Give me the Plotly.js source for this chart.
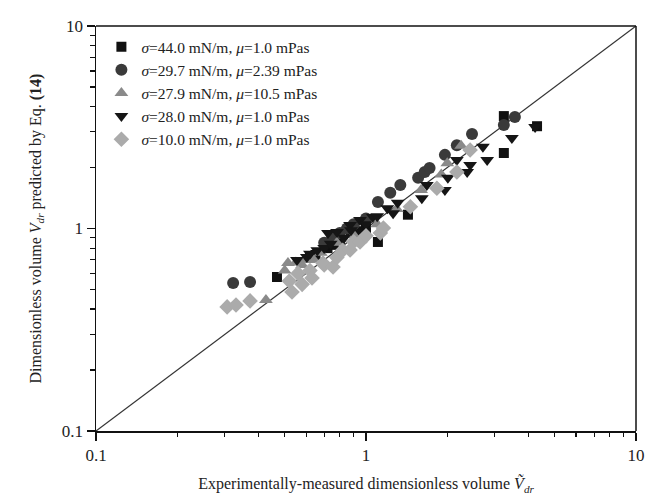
<!DOCTYPE html>
<html>
<head>
<meta charset="utf-8">
<script src="https://cdn.plot.ly/plotly-3.0.1.min.js"></script>
<style>html,body{margin:0;padding:0;background:#fff;}#chart{width:646px;height:500px;}</style>
</head>
<body>
<div id="chart"></div>
<script>
// Series 1: sigma=44.0 mN/m, mu=1.0 mPas (squares)
const sqX = [0.468, 0.62, 0.65, 0.72, 0.76, 0.80, 0.88, 0.92, 1.00, 1.107, 1.43, 3.24, 3.24, 4.30];
const sqY = [0.576, 0.72, 0.74, 0.80, 0.83, 0.88, 0.95, 0.97, 1.00, 0.858, 1.17, 3.59, 2.36, 3.20];
// Series 2: sigma=29.7 mN/m, mu=2.39 mPas (circles)
const ciX = [0.322, 0.372, 0.70, 0.75, 0.80, 0.85, 0.90, 1.00, 1.107, 1.23, 1.34, 1.56, 1.65, 1.72, 1.96, 2.17, 2.47, 3.24, 3.56];
const ciY = [0.538, 0.544, 0.85, 0.90, 0.95, 1.00, 1.05, 1.12, 1.35, 1.50, 1.64, 1.78, 1.90, 1.99, 2.31, 2.58, 2.93, 3.24, 3.55];
// Series 3: sigma=27.9 mN/m, mu=10.5 mPas (up triangles)
const upX = [0.426, 0.50, 0.514, 0.55, 0.58, 0.60, 0.64, 0.68, 0.78, 0.90, 1.10, 1.30, 1.60, 1.90, 2.00, 2.25];
const upY = [0.443, 0.62, 0.676, 0.68, 0.66, 0.70, 0.70, 0.76, 0.85, 0.93, 1.05, 1.25, 1.55, 1.85, 2.10, 2.56];
// Series 4: sigma=28.0 mN/m, mu=1.0 mPas (down triangles)
const dnX = [0.555, 0.604, 0.62, 0.66, 0.70, 0.723, 0.74, 0.781, 0.83, 0.873, 0.88, 0.950, 1.00, 1.06, 1.10, 1.20, 1.26, 1.31, 1.61, 1.68, 1.96, 2.01, 2.17, 2.37, 2.43, 2.71, 2.81, 3.47, 4.23];
const dnY = [0.699, 0.723, 0.75, 0.78, 0.80, 0.950, 0.84, 0.961, 0.90, 1.04, 0.98, 1.10, 1.05, 1.14, 1.15, 1.26, 1.19, 1.34, 1.41, 1.64, 1.55, 1.78, 2.18, 1.90, 2.06, 2.53, 2.18, 2.80, 3.17];
// Series 5: sigma=10.0 mN/m, mu=1.0 mPas (diamonds)
const diX = [0.306, 0.330, 0.372, 0.52, 0.532, 0.56, 0.58, 0.62, 0.631, 0.693, 0.70, 0.755, 0.78, 0.82, 0.873, 0.90, 0.950, 1.00, 1.13, 1.16, 1.46, 1.83, 2.17, 2.43];
const diY = [0.410, 0.419, 0.439, 0.55, 0.486, 0.60, 0.53, 0.62, 0.570, 0.676, 0.66, 0.645, 0.72, 0.78, 0.783, 0.86, 0.858, 0.92, 0.950, 1.005, 1.28, 1.58, 1.90, 2.44];
// Reference line y = x
const lineX = [0.1, 10];
// Tick values
const majorVals = [0.1, 1, 10];
const majorText = ['0.1', '1', '10'];
const minorVals = [0.2,0.3,0.4,0.5,0.6,0.7,0.8,0.9,2,3,4,5,6,7,8,9];

const names = [
  '<i>σ</i>=44.0 mN/m, <i>μ</i>=1.0 mPas',
  '<i>σ</i>=29.7 mN/m, <i>μ</i>=2.39 mPas',
  '<i>σ</i>=27.9 mN/m, <i>μ</i>=10.5 mPas',
  '<i>σ</i>=28.0 mN/m, <i>μ</i>=1.0 mPas',
  '<i>σ</i>=10.0 mN/m, <i>μ</i>=1.0 mPas'
];

const mk = (sym, col, size) => ({symbol: sym, color: col, size: size, line: {width: 0}});
const traces = [
  {x: lineX, y: lineX, mode: 'lines', line: {color: '#333', width: 1.2}, showlegend: false, hoverinfo: 'skip'},
  {x: sqX, y: sqY, mode: 'markers', name: names[0], marker: mk('square', '#111111', 10)},
  {x: ciX, y: ciY, mode: 'markers', name: names[1], marker: mk('circle', '#3a3a3a', 12)},
  {x: upX, y: upY, mode: 'markers', name: names[2], marker: mk('triangle-up', '#8a8a8a', 12)},
  {x: dnX, y: dnY, mode: 'markers', name: names[3], marker: mk('triangle-down', '#151515', 12)},
  {x: diX, y: diY, mode: 'markers', name: names[4], marker: mk('diamond', '#ababab', 12)},
  {x: lineX, y: lineX, xaxis: 'x2', yaxis: 'y2', mode: 'lines', line: {width: 0, color: 'rgba(0,0,0,0)'}, showlegend: false, hoverinfo: 'skip'}
];

const axisCommon = {
  type: 'log', range: [-1, 1], tickmode: 'array', tickvals: majorVals, ticktext: majorText,
  ticks: 'outside', ticklen: 8, tickwidth: 1.2, tickcolor: '#111',
  showline: true, linecolor: '#111', linewidth: 1.5, mirror: false,
  showgrid: false, zeroline: false,
  tickfont: {family: 'Liberation Serif', size: 17, color: '#222'}
};
const minorAxis = {
  type: 'log', range: [-1, 1], tickmode: 'array', tickvals: minorVals,
  ticks: 'outside', ticklen: 5, tickwidth: 1.2, tickcolor: '#111',
  showticklabels: false, showline: false, showgrid: false, zeroline: false
};

const layout = {
  width: 646, height: 500,
  margin: {l: 96, r: 10, t: 26, b: 69},
  paper_bgcolor: '#fff', plot_bgcolor: '#fff',
  font: {family: 'Liberation Serif', color: '#222'},
  showlegend: true,
  legend: {x: 0.01, y: 0.99, xanchor: 'left', yanchor: 'top', bgcolor: 'rgba(0,0,0,0)', borderwidth: 0,
           font: {family: 'Liberation Serif', size: 15.5, color: '#222'}},
  shapes: [
    {type: 'line', xref: 'paper', yref: 'paper', x0: 0, x1: 1, y0: 1, y1: 1, line: {color: '#111', width: 1.5}},
    {type: 'line', xref: 'paper', yref: 'paper', x0: 1, x1: 1, y0: 0, y1: 1, line: {color: '#111', width: 1.5}}
  ],
  xaxis: Object.assign({}, axisCommon, {
    title: {text: 'Experimentally-measured dimensionless volume <i>Ṽ</i><sub><i>dr</i></sub>', font: {family: 'Liberation Serif', size: 16, color: '#222'}, standoff: 14}
  }),
  yaxis: Object.assign({}, axisCommon, {
    title: {text: 'Dimensionless volume <i>V</i><sub><i>dr</i></sub> predicted by Eq. <b>(14)</b>', font: {family: 'Liberation Serif', size: 16, color: '#222'}, standoff: 16}
  }),
  xaxis2: Object.assign({}, minorAxis, {overlaying: 'x', side: 'bottom', anchor: 'y'}),
  yaxis2: Object.assign({}, minorAxis, {overlaying: 'y', side: 'left', anchor: 'x'})
};

Plotly.newPlot('chart', traces, layout, {displayModeBar: false, staticPlot: true});
</script>
</body>
</html>
